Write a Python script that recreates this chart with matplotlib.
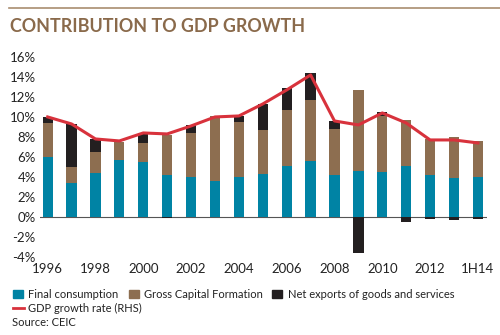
import matplotlib.pyplot as plt
from matplotlib.lines import Line2D
from matplotlib.patches import Rectangle
import numpy as np

plt.rcParams['font.family'] = ['Lato', 'DejaVu Sans']

# Data (percent)
years = ['1996', '1997', '1998', '1999', '2000', '2001', '2002', '2003', '2004', '2005',
         '2006', '2007', '2008', '2009', '2010', '2011', '2012', '2013', '1H14']
consumption = [6.0, 3.4, 4.4, 5.7, 5.5, 4.2, 4.0, 3.6, 4.0, 4.3,
               5.1, 5.6, 4.2, 4.6, 4.5, 5.1, 4.2, 3.9, 4.0]
capital = [3.4, 1.6, 2.1, 1.8, 1.9, 4.0, 4.4, 6.5, 5.5, 4.4,
           5.6, 6.1, 4.6, 8.1, 5.6, 4.6, 3.6, 4.1, 3.6]
net_exports = [0.6, 4.3, 1.3, 0.0, 1.0, -0.1, 0.8, 0.0, 0.6, 2.6,
               2.2, 2.7, 0.8, -3.6, 0.4, -0.5, -0.2, -0.3, -0.2]
gdp_growth = [10.0, 9.3, 7.8, 7.6, 8.4, 8.3, 9.1, 10.0, 10.1, 11.3,
              12.7, 14.2, 9.6, 9.2, 10.4, 9.4, 7.7, 7.7, 7.4]

c_blue = '#0083A4'
c_brown = '#8D6E50'
c_black = '#231F20'
c_red = '#D8323C'
c_title = '#8A6A4B'

fig = plt.figure(figsize=(5, 3.35), dpi=100)
ax = fig.add_axes([0.08, 0.233, 0.894, 0.597])

x = np.arange(len(years))
w = 0.43
cons = np.array(consumption)
cap = np.array(capital)
nx = np.array(net_exports)

ax.bar(x, cons, w, color=c_blue, zorder=2)
ax.bar(x, cap, w, bottom=cons, color=c_brown, zorder=2)
nx_bottom = np.where(nx >= 0, cons + cap, 0)
ax.bar(x, nx, w, bottom=nx_bottom, color=c_black, zorder=2)
ax.plot(x, gdp_growth, color=c_red, lw=2.2, zorder=3, solid_joinstyle='round')

ax.axhline(0, color='#555555', lw=0.8, zorder=1)
ax.set_ylim(-4, 16)
ax.set_xlim(-0.32, 18.38)
ax.set_yticks(range(-4, 17, 2))
ax.set_yticklabels([f'{v}%' for v in range(-4, 17, 2)])
ax.set_xticks(x[::2])
ax.set_xticklabels(years[::2])
ax.tick_params(length=0, labelsize=9.5, colors='#222222', pad=3)
ax.tick_params(axis='x', pad=4)
for s in ax.spines.values():
    s.set_visible(False)

# title and rule
fig.add_artist(Line2D([0.018, 1.0], [1 - 8 / 335, 1 - 8 / 335], color='#A98D70', lw=1.2))
fig.text(0.02, 1 - 26 / 335, 'CONTRIBUTION TO GDP GROWTH', color=c_title,
         fontsize=12.9, fontweight='bold', va='center', ha='left')

# legend
def sq(xpx, ypx, color):
    fig.add_artist(Rectangle((xpx / 500, 1 - (ypx + 4) / 335), 10 / 500, 8 / 335,
                             color=color, transform=fig.transFigure))

row1 = 294
sq(13, row1, c_blue)
fig.text(28 / 500, 1 - row1 / 335, 'Final consumption', fontsize=8, va='center', color='#222222')
sq(129, row1, c_brown)
fig.text(144 / 500, 1 - row1 / 335, 'Gross Capital Formation', fontsize=8, va='center', color='#222222')
sq(272, row1, c_black)
fig.text(288 / 500, 1 - row1 / 335, 'Net exports of goods and services', fontsize=8, va='center', color='#222222')
row2 = 308
fig.add_artist(Line2D([13 / 500, 24 / 500], [1 - row2 / 335, 1 - row2 / 335], color=c_red, lw=2))
fig.text(28 / 500, 1 - row2 / 335, 'GDP growth rate (RHS)', fontsize=8, va='center', color='#222222')
fig.text(12 / 500, 1 - 322 / 335, 'Source: CEIC', fontsize=8, va='center', color='#222222')

fig.savefig('out.png', dpi=100)
